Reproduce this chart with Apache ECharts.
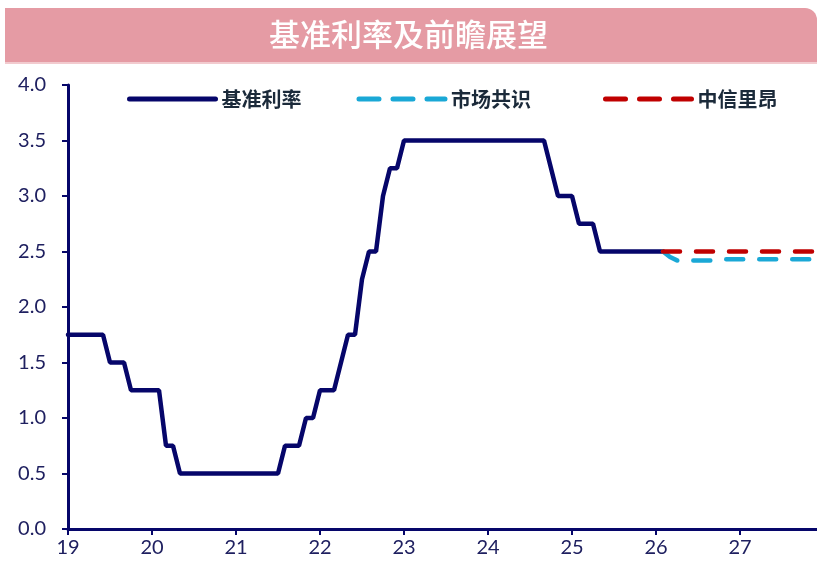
<!DOCTYPE html>
<html>
<head>
<meta charset="utf-8">
<script src="https://cdn.jsdelivr.net/npm/echarts@6/dist/echarts.min.js"></script>
<style>
  html, body { margin: 0; padding: 0; background: #fff; }
  #chart { width: 817px; height: 570px; }
</style>
</head>
<body>
<div id="chart"></div>
<script>
// 月度数据：2019-01 ~ 2027-12
var years = ['19', '20', '21', '22', '23', '24', '25', '26', '27'];
var months = [];
years.forEach(function (y) {
  for (var m = 1; m <= 12; m++) months.push(y + '-' + (m < 10 ? '0' + m : m));
});

// 基准利率 2019-01 ~ 2026-02
var baseRate = [
  1.75, 1.75, 1.75, 1.75, 1.75, 1.75, 1.5, 1.5, 1.5, 1.25, 1.25, 1.25,
  1.25, 1.25, 0.75, 0.75, 0.5, 0.5, 0.5, 0.5, 0.5, 0.5, 0.5, 0.5,
  0.5, 0.5, 0.5, 0.5, 0.5, 0.5, 0.5, 0.75, 0.75, 0.75, 1.0, 1.0,
  1.25, 1.25, 1.25, 1.5, 1.75, 1.75, 2.25, 2.5, 2.5, 3.0, 3.25, 3.25,
  3.5, 3.5, 3.5, 3.5, 3.5, 3.5, 3.5, 3.5, 3.5, 3.5, 3.5, 3.5,
  3.5, 3.5, 3.5, 3.5, 3.5, 3.5, 3.5, 3.5, 3.5, 3.25, 3.0, 3.0,
  3.0, 2.75, 2.75, 2.75, 2.5, 2.5, 2.5, 2.5, 2.5, 2.5, 2.5, 2.5,
  2.5, 2.5
];
// 预测 2026-02 ~ 2027-12
var forecastStart = 85;
var consensus = [
  2.5, 2.45, 2.42, 2.42, 2.42, 2.42, 2.42, 2.42, 2.42, 2.43, 2.43, 2.43,
  2.43, 2.43, 2.43, 2.43, 2.43, 2.43, 2.43, 2.43, 2.43, 2.43, 2.43
];
var clsa = [
  2.5, 2.5, 2.5, 2.5, 2.5, 2.5, 2.5, 2.5, 2.5, 2.5, 2.5, 2.5,
  2.5, 2.5, 2.5, 2.5, 2.5, 2.5, 2.5, 2.5, 2.5, 2.5, 2.5
];

function pad(arr) {
  var out = [];
  for (var i = 0; i < forecastStart; i++) out.push(null);
  return out.concat(arr);
}

var navy = '#06066a';
var cyan = '#1aa8d6';
var red = '#c00000';

// 图例公共样式
function legendBase(left, data) {
  return {
    left: left,
    top: 89,
    padding: 0,
    itemWidth: 86,
    itemHeight: 20,
    itemGap: 55,
    itemStyle: { opacity: 0 },
    lineStyle: { width: 5, cap: 'round' },
    textStyle: {
      color: '#1b2a3a',
      fontSize: 20,
      fontWeight: 'bold',
      fontFamily: 'Noto Sans CJK SC',
      padding: [0, 0, 0, 1]
    },
    data: data
  };
}

var chart = echarts.init(document.getElementById('chart'));
var option = {
  animation: false,
  graphic: [
    {
      type: 'rect',
      left: 5, top: 8,
      shape: { width: 812, height: 55, r: [0, 12, 0, 0] },
      style: { fill: '#e59ba4' },
      z: 0
    },
    {
      type: 'rect',
      left: 5, top: 62,
      shape: { width: 812, height: 2 },
      style: { fill: '#f2cbcf' },
      z: 0
    },
    {
      type: 'text',
      left: 'center', top: 19,
      style: {
        text: '基准利率及前瞻展望',
        fill: '#fff',
        font: '500 31px "Noto Sans CJK SC"',
        letterSpacing: 1
      },
      z: 1
    }
  ],
  legend: [
    legendBase(127, [
      { name: '基准利率', lineStyle: { color: navy, width: 5, type: 'solid', cap: 'round' } },
      { name: '市场共识', lineStyle: { color: cyan, width: 5, type: [20, 14], cap: 'round' } }
    ]),
    legendBase(603, [
      { name: '中信里昂', lineStyle: { color: red, width: 5, type: [20, 14], cap: 'round' } }
    ])
  ],
  grid: {
    left: 68,
    right: 0,
    top: 85,
    bottom: 41,
    containLabel: false
  },
  xAxis: {
    type: 'category',
    data: months,
    boundaryGap: false,
    axisLine: { lineStyle: { color: navy, width: 3 } },
    axisTick: {
      length: 6,
      lineStyle: { color: navy, width: 2 },
      interval: function (index) { return index % 12 === 0; }
    },
    axisLabel: {
      interval: function (index) { return index % 12 === 0; },
      formatter: function (v) { return v.split('-')[0]; },
      color: '#1f2060',
      fontSize: 20,
      fontFamily: 'Lato',
      margin: 9
    },
    splitLine: { show: false }
  },
  yAxis: {
    type: 'value',
    min: 0,
    max: 4,
    interval: 0.5,
    axisLine: { show: true, lineStyle: { color: navy, width: 3 } },
    axisTick: { show: true, length: 6, lineStyle: { color: navy, width: 2 } },
    axisLabel: {
      formatter: function (v) { return v.toFixed(1); },
      color: '#1f2060',
      fontSize: 20,
      fontFamily: 'Lato',
      margin: 22
    },
    splitLine: { show: false }
  },
  series: [
    {
      name: '基准利率',
      type: 'line',
      data: baseRate,
      symbol: 'none',
      lineStyle: { color: navy, width: 4.5, cap: 'round' },
      itemStyle: { color: navy },
      z: 2
    },
    {
      name: '市场共识',
      type: 'line',
      data: pad(consensus),
      symbol: 'none',
      lineStyle: { color: cyan, width: 4.5, type: [17, 16], cap: 'round' },
      itemStyle: { color: cyan },
      z: 3
    },
    {
      name: '中信里昂',
      type: 'line',
      data: pad(clsa),
      symbol: 'none',
      lineStyle: { color: red, width: 4.5, type: [17, 16], cap: 'round' },
      itemStyle: { color: red },
      z: 4
    }
  ]
};
chart.setOption(option);
</script>
</body>
</html>
